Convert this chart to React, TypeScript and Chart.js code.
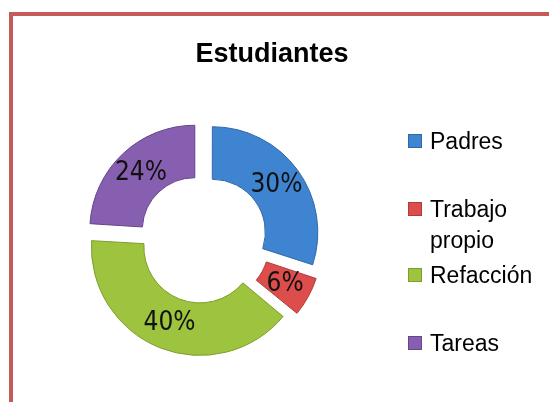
import React, { useEffect, useRef } from "react";
import { Chart, registerables } from "chart.js";

Chart.register(...registerables);

const TITLE = "Estudiantes";
const categories = ["Padres", "Trabajo propio", "Refacción", "Tareas"];
const values = [30, 6, 40, 24];

const fillColors = ["#3F84D0", "#DC4D4B", "#9DC33F", "#875FB0"];
const edgeColors = ["#2F68A8", "#B03A38", "#7C9E2C", "#664689"];
// desired explode distance in px for each slice (styling)
const sliceOffsets = [12, 15, 12, 12];

// layout constants (styling only)
const LEGEND_X = 408;
const LEGEND_TEXT_X = 430;
const LEGEND_BASELINES = [149, 217, 283, 351];
const LEGEND_LINE_H = 31;
const LEGEND_MAX_W = 108;

function wrap(ctx: CanvasRenderingContext2D, text: string, maxW: number): string[] {
  const words = text.split(" ");
  const lines: string[] = [];
  let cur = "";
  for (const w of words) {
    const test = cur ? cur + " " + w : w;
    if (cur && ctx.measureText(test).width > maxW) {
      lines.push(cur);
      cur = w;
    } else {
      cur = test;
    }
  }
  if (cur) lines.push(cur);
  return lines;
}

// Chart.js draws an arc translated by offset/4 * (1 + (1 - sin(min(PI, circumference))))
function chartOffsetFor(index: number, data: number[]): number {
  const total = data.reduce((a, b) => a + b, 0);
  const circ = (data[index] / total) * Math.PI * 2;
  const fix = 1 - Math.sin(Math.min(Math.PI, circ));
  return (sliceOffsets[index] * 4) / (1 + fix);
}

const overlayPlugin = {
  id: "overlay",
  afterDatasetsDraw(chart: any) {
    const ctx: CanvasRenderingContext2D = chart.ctx;
    const meta = chart.getDatasetMeta(0);
    const data: number[] = chart.data.datasets[0].data;
    const total = data.reduce((a, b) => a + b, 0);
    ctx.save();
    ctx.font = "26px 'Liberation Sans Narrow', 'DejaVu Sans Condensed', sans-serif";
    ctx.fillStyle = "#111";
    ctx.textAlign = "center";
    ctx.textBaseline = "middle";
    meta.data.forEach((arc: any, i: number) => {
      const p = arc.getProps(["x", "y", "startAngle", "endAngle", "innerRadius", "outerRadius"], true);
      const off = sliceOffsets[i] || 0;
      const mid = (p.startAngle + p.endAngle) / 2;
      const r = (p.innerRadius + p.outerRadius) / 2 + off;
      const pct = Math.round((data[i] / total) * 100);
      ctx.fillText(pct + "%", p.x + Math.cos(mid) * r, p.y + Math.sin(mid) * r);
    });
    ctx.restore();
  },
  afterDraw(chart: any) {
    const ctx: CanvasRenderingContext2D = chart.ctx;
    ctx.save();
    // title
    ctx.font = "bold 27px 'Liberation Sans', Arial, sans-serif";
    ctx.fillStyle = "#000";
    ctx.textAlign = "center";
    ctx.textBaseline = "alphabetic";
    ctx.fillText(TITLE, 272, 62);
    // legend
    ctx.font = "23px 'Liberation Sans', Arial, sans-serif";
    ctx.textAlign = "left";
    const labels: string[] = chart.data.labels;
    labels.forEach((lab, i) => {
      const base = LEGEND_BASELINES[i];
      ctx.fillStyle = fillColors[i];
      ctx.fillRect(LEGEND_X, base - 15, 14, 14);
      ctx.strokeStyle = edgeColors[i];
      ctx.lineWidth = 1;
      ctx.strokeRect(LEGEND_X + 0.5, base - 14.5, 13, 13);
      ctx.fillStyle = "#000";
      const lines = wrap(ctx, lab, LEGEND_MAX_W);
      lines.forEach((ln, j) => {
        ctx.fillText(ln, LEGEND_TEXT_X, base + j * LEGEND_LINE_H);
      });
    });
    ctx.restore();
  },
};

export default function App() {
  const ref = useRef<HTMLCanvasElement | null>(null);

  useEffect(() => {
    if (!ref.current) return;
    const chart = new Chart(ref.current, {
      type: "doughnut",
      data: {
        labels: categories,
        datasets: [
          {
            data: values,
            backgroundColor: fillColors,
            borderColor: edgeColors,
            borderWidth: 1,
            offset: (c: any) => chartOffsetFor(c.dataIndex, c.dataset.data),
            hoverOffset: 0,
          },
        ],
      },
      options: {
        animation: false,
        responsive: false,
        maintainAspectRatio: false,
        devicePixelRatio: 1,
        cutout: "50%",
        radius: 105,
        layout: { padding: { left: 93, top: 129, right: 236, bottom: 53 } },
        plugins: {
          legend: { display: false },
          title: { display: false },
          tooltip: { enabled: false },
        },
        events: [],
      } as any,
      plugins: [overlayPlugin],
    });
    return () => chart.destroy();
  }, []);

  return (
    <div
      style={{
        position: "fixed",
        left: 0,
        top: 0,
        width: 549,
        height: 402,
        overflow: "hidden",
        background: "#fff",
      }}
    >
      <div
        style={{
          position: "absolute",
          left: 9,
          top: 12,
          width: 600,
          height: 450,
          border: "4px solid #C55A58",
          boxSizing: "border-box",
        }}
      />
      <canvas
        ref={ref}
        width={549}
        height={402}
        style={{ position: "absolute", left: 0, top: 0, width: 549, height: 402 }}
      />
    </div>
  );
}
